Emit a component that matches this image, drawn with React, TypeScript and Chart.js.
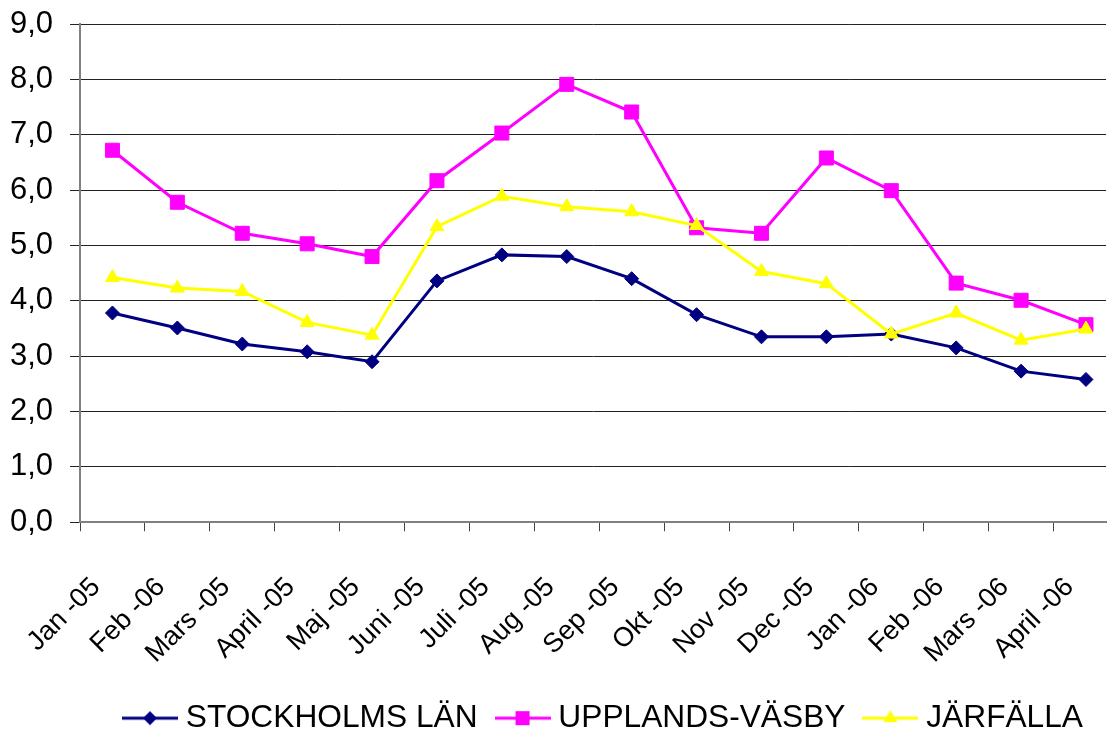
import React, { useEffect, useRef } from 'react';
import { Chart, registerables } from 'chart.js';

Chart.register(...registerables);

const monthLabels = [
  'Jan -05', 'Feb -06', 'Mars -05', 'April -05', 'Maj -05', 'Juni -05', 'Juli -05', 'Aug -05',
  'Sep -05', 'Okt -05', 'Nov -05', 'Dec -05', 'Jan -06', 'Feb -06', 'Mars -06', 'April -06',
];
const stockholmsLan = [3.78, 3.51, 3.22, 3.08, 2.9, 4.36, 4.83, 4.8, 4.4, 3.75, 3.35, 3.35, 3.4, 3.15, 2.73, 2.58];
const upplandsVasby = [6.72, 5.78, 5.22, 5.03, 4.8, 6.17, 7.03, 7.91, 7.41, 5.32, 5.22, 6.58, 5.99, 4.32, 4.01, 3.57];
const jarfalla = [4.42, 4.23, 4.17, 3.61, 3.38, 5.34, 5.89, 5.7, 5.61, 5.36, 4.53, 4.31, 3.4, 3.78, 3.29, 3.49];
const seriesNames = ['STOCKHOLMS LÄN', 'UPPLANDS-VÄSBY', 'JÄRFÄLLA'];
const yMin = 0;
const yMax = 9;
const yStep = 1;

const FONT = "'Liberation Sans', Arial, Helvetica, sans-serif";

function makeLegendImage(color: string, shape: string): HTMLCanvasElement {
  const c = document.createElement('canvas');
  c.width = 56;
  c.height = 20;
  const ctx = c.getContext('2d')!;
  ctx.strokeStyle = color;
  ctx.lineWidth = 3;
  ctx.beginPath();
  ctx.moveTo(0, 10);
  ctx.lineTo(56, 10);
  ctx.stroke();
  ctx.fillStyle = color;
  ctx.beginPath();
  const cx = 28;
  const cy = 10;
  if (shape === 'rectRot') {
    ctx.moveTo(cx - 7, cy);
    ctx.lineTo(cx, cy - 7);
    ctx.lineTo(cx + 7, cy);
    ctx.lineTo(cx, cy + 7);
    ctx.closePath();
  } else if (shape === 'rect') {
    ctx.rect(cx - 7, cy - 7, 14, 14);
  } else {
    const r = 8;
    ctx.moveTo(cx, cy - r);
    ctx.lineTo(cx + r * 0.866, cy + r / 2);
    ctx.lineTo(cx - r * 0.866, cy + r / 2);
    ctx.closePath();
  }
  ctx.fill();
  return c;
}

const legendShift = {
  id: 'legendShift',
  afterLayout(chart: any) {
    if (chart.legend) {
      chart.legend.right -= 9;
    }
  },
};

export default function App() {
  const canvasRef = useRef<HTMLCanvasElement | null>(null);

  useEffect(() => {
    if (!canvasRef.current) return;
    const colors = ['#000080', '#FF00FF', '#FFFF00'];
    const shapes = ['rectRot', 'rect', 'triangle'];
    const radii = [7, 9.9, 8];
    const values = [stockholmsLan, upplandsVasby, jarfalla];
    const orders = [3, 2, 1];

    const datasets = values.map((vals, d) => ({
      label: seriesNames[d],
      data: vals.map((v, i) => ({ x: i + 0.5, y: v })),
      borderColor: colors[d],
      backgroundColor: colors[d],
      borderWidth: 3,
      pointStyle: shapes[d],
      pointRadius: radii[d],
      pointBorderWidth: 1,
      pointBorderColor: colors[d],
      pointBackgroundColor: colors[d],
      tension: 0,
      order: orders[d],
    }));

    const legendImages = colors.map((c, d) => makeLegendImage(c, shapes[d]));

    const chart = new Chart(canvasRef.current, {
      type: 'line',
      data: { datasets },
      plugins: [legendShift],
      options: {
        animation: false,
        responsive: false,
        devicePixelRatio: 1,
        layout: { padding: { top: 24, right: 0, bottom: -13, left: 0 } },
        plugins: {
          tooltip: { enabled: false },
          title: { display: false },
          legend: {
            display: true,
            position: 'bottom',
            align: 'end',
            fullSize: true,
            labels: {
              usePointStyle: true,
              pointStyleWidth: 40,
              padding: 25,
              color: '#000',
              font: { size: 31.7, family: FONT },
              generateLabels: () =>
                seriesNames.map((name, d) => ({
                  text: name,
                  fillStyle: colors[d],
                  strokeStyle: colors[d],
                  lineWidth: 0,
                  pointStyle: legendImages[d],
                  hidden: false,
                  datasetIndex: d,
                  fontColor: '#000',
                })),
            },
          },
        },
        scales: {
          x: {
            type: 'linear',
            min: 0,
            max: 15.81,
            afterBuildTicks: (s: any) => {
              s.ticks = monthLabels.map((_, i) => ({ value: i }));
            },
            afterFit: (s: any) => {
              s.height = 155;
              s.paddingLeft = 0;
              s.paddingRight = 0;
              s.paddingTop = 0;
              s.paddingBottom = 0;
            },
            grid: {
              drawOnChartArea: false,
              drawTicks: true,
              tickLength: 9,
              color: '#444',
              lineWidth: 1,
            },
            border: { display: true, color: '#808080', width: 2 },
            ticks: {
              autoSkip: false,
              maxRotation: 45,
              minRotation: 45,
              labelOffset: 16,
              padding: 40,
              color: '#000',
              font: { size: 27, family: FONT },
              callback: (v: any) => monthLabels[v] ?? '',
            },
          },
          y: {
            min: yMin,
            max: yMax,
            afterFit: (s: any) => {
              s.width = 80;
              s.paddingTop = 0;
              s.paddingBottom = 0;
            },
            grid: { color: '#222', lineWidth: 1, tickLength: 10 },
            border: { display: true, color: '#808080', width: 2 },
            ticks: {
              stepSize: yStep,
              padding: 17,
              color: '#000',
              font: { size: 31, family: FONT },
              callback: (v: any) => Number(v).toFixed(1).replace('.', ','),
            },
          },
        },
      },
    });
    return () => chart.destroy();
  }, []);

  return (
    <div style={{ position: 'fixed', left: 0, top: 0, width: 1117, height: 731, background: '#fff' }}>
      <canvas ref={canvasRef} width={1117} height={731} style={{ display: 'block' }} />
    </div>
  );
}
